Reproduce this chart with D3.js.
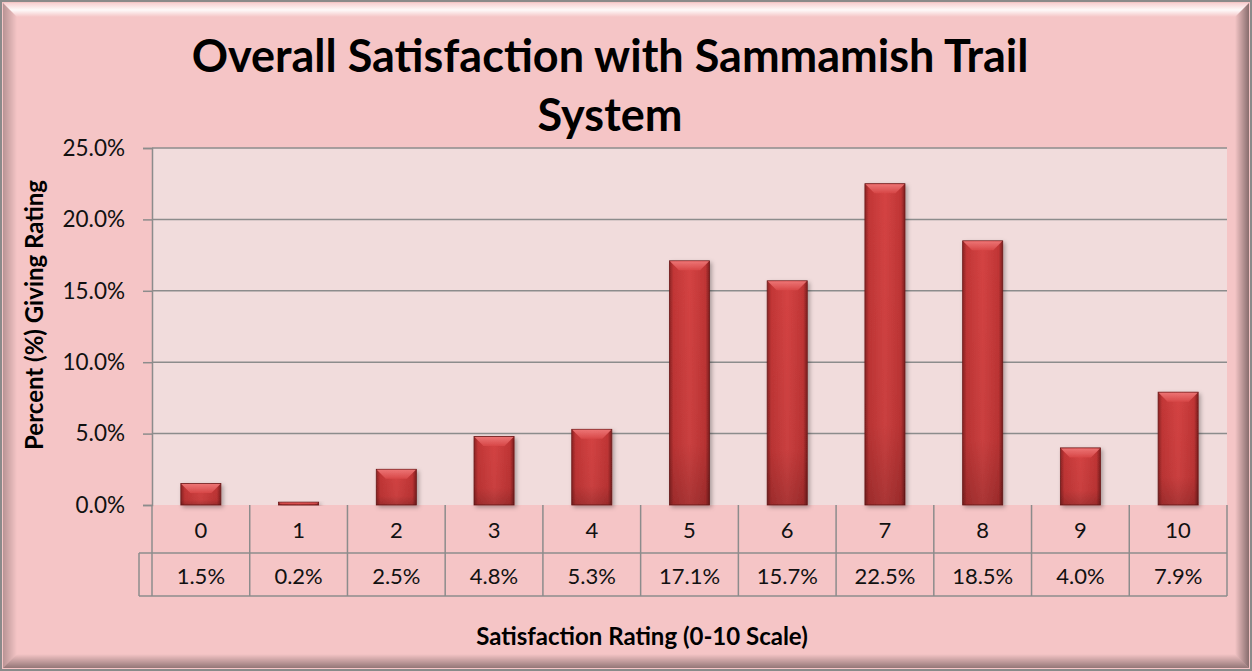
<!DOCTYPE html>
<html>
<head>
<meta charset="utf-8">
<script src="https://cdn.jsdelivr.net/npm/d3@7"></script>
<style>
  body { margin: 0; background: #ffffff; }
  svg { display: block; font-family: Lato, "Open Sans", sans-serif; }
</style>
</head>
<body>
<div id="chart"></div>
<script>
const W = 1252, H = 671

// chart data
const ratings = ["0", "1", "2", "3", "4", "5", "6", "7", "8", "9", "10"]
const percents = [1.5, 0.2, 2.5, 4.8, 5.3, 17.1, 15.7, 22.5, 18.5, 4.0, 7.9]
const yTicks = [0, 5, 10, 15, 20, 25]
const titleLines = ["Overall Satisfaction with Sammamish Trail", "System"]
const yTitle = "Percent (%) Giving Rating"
const xTitle = "Satisfaction Rating (0-10 Scale)"

const plot = {left: 152, right: 1227, top: 148, bottom: 505}
const rowH = 48

const svg = d3.select("#chart").append("svg")
    .attr("width", W).attr("height", H)

const defs = svg.append("defs")

// bar gradient (dark edges, lighter middle)
const bg = defs.append("linearGradient").attr("id", "barGrad")
    .attr("x1", 0).attr("x2", 1).attr("y1", 0).attr("y2", 0)
bg.append("stop").attr("offset", "0%").attr("stop-color", "#8c2424")
bg.append("stop").attr("offset", "10%").attr("stop-color", "#c23636")
bg.append("stop").attr("offset", "50%").attr("stop-color", "#d44343")
bg.append("stop").attr("offset", "90%").attr("stop-color", "#c03535")
bg.append("stop").attr("offset", "100%").attr("stop-color", "#7e1f1f")

const bv = defs.append("linearGradient").attr("id", "barShade")
    .attr("x1", 0).attr("x2", 0).attr("y1", 0).attr("y2", 1)
bv.append("stop").attr("offset", "0%").attr("stop-color", "#000").attr("stop-opacity", 0)
bv.append("stop").attr("offset", "75%").attr("stop-color", "#000").attr("stop-opacity", 0.05)
bv.append("stop").attr("offset", "100%").attr("stop-color", "#000").attr("stop-opacity", 0.2)

const tb = defs.append("linearGradient").attr("id", "topGrad")
    .attr("x1", 0).attr("x2", 0).attr("y1", 0).attr("y2", 1)
tb.append("stop").attr("offset", "0%").attr("stop-color", "#f07a7a")
tb.append("stop").attr("offset", "100%").attr("stop-color", "#d84848")

const shadow = defs.append("filter").attr("id", "shadow")
    .attr("x", "-20%").attr("y", "-20%").attr("width", "150%").attr("height", "150%")
shadow.append("feDropShadow").attr("dx", 2).attr("dy", 2).attr("stdDeviation", 2)
    .attr("flood-color", "#000").attr("flood-opacity", 0.3)

// frame gradients
function lg(id, x1, y1, x2, y2, stops) {
    const g = defs.append("linearGradient").attr("id", id)
        .attr("x1", x1).attr("y1", y1).attr("x2", x2).attr("y2", y2)
    stops.forEach(s => g.append("stop").attr("offset", s[0]).attr("stop-color", s[1]).attr("stop-opacity", s[2]))
}
lg("topBev", 0, 0, 0, 1, [["0%", "#ffffff", 0.2], ["50%", "#ffffff", 0.9], ["100%", "#ffffff", 0]])
lg("rightBev", 0, 0, 1, 0, [["0%", "#000", 0], ["100%", "#000", 0.45]])
lg("bottomBev", 0, 0, 0, 1, [["0%", "#000", 0], ["100%", "#000", 0.4]])
lg("leftBev", 0, 0, 1, 0, [["0%", "#000", 0.25], ["100%", "#000", 0]])

// outer chart area
svg.append("rect").attr("x", 1).attr("y", 1).attr("width", W - 2).attr("height", H - 2)
    .attr("fill", "#f5c5c6").attr("stroke", "#8a8a8a").attr("stroke-width", 2)
svg.append("polygon").attr("points", `3,3 ${W-3},3 ${W-17},17 17,17`).attr("fill", "url(#topBev)")
svg.append("polygon").attr("points", `${W-3},3 ${W-3},${H-3} ${W-17},${H-17} ${W-17},17`).attr("fill", "url(#rightBev)")
svg.append("polygon").attr("points", `3,${H-3} ${W-3},${H-3} ${W-17},${H-17} 17,${H-17}`).attr("fill", "url(#bottomBev)")
svg.append("polygon").attr("points", `3,3 17,17 17,${H-17} 3,${H-3}`).attr("fill", "url(#leftBev)")

// scales
const x = d3.scaleBand()
    .domain(ratings)
    .range([plot.left, plot.right])
    .paddingInner(0.59)
    .paddingOuter(0.295)
const step = x.step()

const y = d3.scaleLinear()
    .domain([0, 25])
    .range([plot.bottom, plot.top])

// plot area
svg.append("rect")
    .attr("x", plot.left).attr("y", plot.top)
    .attr("width", plot.right - plot.left).attr("height", plot.bottom - plot.top)
    .attr("fill", "#f1dcdc")

// gridlines
svg.append("g")
    .selectAll("line")
    .data(yTicks.filter(t => t > 0))
    .join("line")
        .attr("x1", plot.left).attr("x2", plot.right)
        .attr("y1", d => y(d)).attr("y2", d => y(d))
        .attr("stroke", "#8c8c8c").attr("stroke-width", 1.5)

// y axis
const yAxis = svg.append("g")
    .attr("transform", `translate(${plot.left}, 0)`)
    .call(d3.axisLeft(y).tickValues(yTicks).tickSize(9).tickPadding(18)
        .tickFormat(d => d.toFixed(1) + "%"))
yAxis.select(".domain").attr("stroke", "#8c8c8c").attr("stroke-width", 1.5)
yAxis.selectAll(".tick line").attr("stroke", "#8c8c8c").attr("stroke-width", 1.5)
yAxis.selectAll(".tick text")
    .attr("font-size", 22.5).attr("fill", "#111")
    .attr("font-family", "Lato, sans-serif")

// data table below the plot
const table = svg.append("g")
const tLeft = 139
table.append("line")
    .attr("x1", tLeft).attr("x2", plot.right)
    .attr("y1", plot.bottom + rowH).attr("y2", plot.bottom + rowH)
table.append("line")
    .attr("x1", tLeft).attr("x2", plot.right)
    .attr("y1", plot.bottom + rowH * 2 - 5).attr("y2", plot.bottom + rowH * 2 - 5)
table.append("line")
    .attr("x1", tLeft).attr("x2", tLeft)
    .attr("y1", plot.bottom + rowH).attr("y2", plot.bottom + rowH * 2 - 5)
const colEdges = ratings.map(r => x(r) - (step - x.bandwidth()) / 2).concat([plot.right])
table.selectAll("line.col")
    .data(colEdges)
    .join("line")
        .attr("class", "col")
        .attr("x1", d => d).attr("x2", d => d)
        .attr("y1", plot.bottom).attr("y2", plot.bottom + rowH * 2 - 5)
table.selectAll("line").attr("stroke", "#8c8c8c").attr("stroke-width", 1.5)

table.selectAll("text.cat")
    .data(ratings)
    .join("text")
        .attr("class", "cat")
        .attr("x", d => x(d) + x.bandwidth() / 2)
        .attr("y", plot.bottom + 33)
        .attr("text-anchor", "middle")
        .attr("font-size", 22).attr("fill", "#111")
        .text(d => d)

table.selectAll("text.val")
    .data(percents)
    .join("text")
        .attr("class", "val")
        .attr("x", (d, i) => x(ratings[i]) + x.bandwidth() / 2)
        .attr("y", plot.bottom + 79)
        .attr("text-anchor", "middle")
        .attr("font-size", 22).attr("fill", "#111")
        .text(d => d.toFixed(1) + "%")

// bars
const bars = svg.append("g")
    .selectAll("g")
    .data(percents)
    .join("g")
        .attr("filter", "url(#shadow)")

bars.append("rect")
    .attr("x", (d, i) => x(ratings[i]))
    .attr("y", d => y(d))
    .attr("width", x.bandwidth())
    .attr("height", d => plot.bottom - y(d))
    .attr("fill", "url(#barGrad)")
    .attr("stroke", "#6e1a1a").attr("stroke-width", 0.8)

bars.append("rect")
    .attr("x", (d, i) => x(ratings[i]))
    .attr("y", d => y(d))
    .attr("width", x.bandwidth())
    .attr("height", d => plot.bottom - y(d))
    .attr("fill", "url(#barShade)")

// bevel on top of each bar
bars.append("polygon")
    .attr("points", (d, i) => {
        const x0 = x(ratings[i]) + 0.5, x1 = x0 + x.bandwidth() - 1, top = y(d) + 0.5
        const b = Math.min(9, (plot.bottom - top) / 2)
        return `${x0},${top} ${x1},${top} ${x1 - b},${top + b} ${x0 + b},${top + b}`
    })
    .attr("fill", "url(#topGrad)").attr("opacity", 0.9)

// titles
svg.append("g")
    .selectAll("text")
    .data(titleLines)
    .join("text")
        .attr("x", 610)
        .attr("y", (d, i) => 72 + i * 59)
        .attr("text-anchor", "middle")
        .attr("font-size", 45).attr("font-weight", "bold").attr("fill", "#000")
        .text(d => d)

svg.append("text")
    .attr("transform", `translate(43, 315) rotate(-90)`)
    .attr("text-anchor", "middle")
    .attr("font-size", 24).attr("font-weight", "bold").attr("fill", "#000")
    .text(yTitle)

svg.append("text")
    .attr("x", 642).attr("y", 645)
    .attr("text-anchor", "middle")
    .attr("font-size", 24).attr("font-weight", "bold").attr("fill", "#000")
    .text(xTitle)
</script>
</body>
</html>
